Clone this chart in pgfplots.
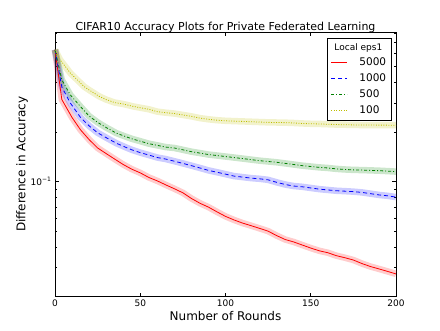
\documentclass[border=0pt]{standalone}
\usepackage{pgfplots}
\usepackage{pgfplotstable}
\usepackage{fontspec}
\setmainfont{DejaVu Sans}
\pgfplotsset{compat=1.18}
\definecolor{mred}{rgb}{1,0,0}
\definecolor{mblue}{rgb}{0,0,1}
\definecolor{mgreen}{rgb}{0,0.5,0}
\definecolor{myellow}{rgb}{0.75,0.75,0}

% eps1 = 5000
\pgfplotstableread{
r v
0 0.632
4 0.315
10 0.245
15 0.206
20 0.180
25 0.160
30 0.148
35 0.137
40 0.127
45 0.119
50 0.113
55 0.106
60 0.101
65 0.0955
70 0.0905
75 0.0855
80 0.0790
85 0.0739
90 0.0700
95 0.0655
100 0.0615
105 0.0585
110 0.0560
115 0.0540
120 0.0520
125 0.0500
130 0.0470
135 0.0445
140 0.0430
145 0.0412
150 0.0395
155 0.0380
160 0.0370
165 0.0355
170 0.0345
175 0.0334
180 0.0318
185 0.0305
190 0.0295
195 0.0285
200 0.0275
}\epsA

% eps1 = 1000
\pgfplotstableread{
r v
0 0.632
4 0.375
9 0.300
15 0.245
20 0.218
25 0.198
30 0.185
36 0.171
40 0.164
45 0.156
50 0.150
55 0.145
60 0.140
65 0.137
70 0.133
75 0.129
80 0.125
85 0.121
90 0.117
95 0.114
100 0.111
105 0.108
110 0.1065
115 0.105
120 0.104
125 0.1025
130 0.099
135 0.096
140 0.094
145 0.093
150 0.0915
155 0.090
160 0.089
165 0.088
170 0.0875
175 0.0869
180 0.086
185 0.0845
190 0.083
195 0.082
200 0.0805
}\epsB

% eps1 = 500
\pgfplotstableread{
r v
0 0.632
4 0.415
9 0.336
15 0.285
20 0.250
25 0.229
30 0.213
36 0.197
40 0.190
45 0.182
50 0.176
55 0.170
60 0.166
65 0.162
70 0.160
75 0.156
80 0.152
85 0.149
90 0.146
95 0.144
100 0.142
105 0.140
110 0.138
115 0.136
120 0.134
125 0.1325
130 0.131
135 0.129
140 0.127
145 0.125
150 0.1235
155 0.122
160 0.121
165 0.1195
170 0.1185
175 0.1178
180 0.1175
185 0.117
190 0.1165
195 0.1158
200 0.115
}\epsC

% eps1 = 100
\pgfplotstableread{
r v
0 0.632
3 0.549
9 0.456
17 0.378
20 0.360
26 0.329
30 0.315
35 0.302
40 0.296
46 0.286
50 0.281
55 0.275
60 0.266
65 0.262
70 0.259
75 0.254
80 0.249
85 0.243
90 0.239
95 0.236
100 0.234
105 0.233
110 0.232
115 0.231
120 0.230
125 0.229
130 0.2285
135 0.228
140 0.227
145 0.2255
150 0.2245
155 0.224
160 0.223
165 0.222
170 0.2215
175 0.221
180 0.2205
185 0.2205
190 0.2203
195 0.2202
200 0.220
}\epsD

\begin{document}
\begin{tikzpicture}
\begin{axis}[
  scale only axis,
  width=341pt, height=264.7pt,
  xmin=0, xmax=200,
  ymode=log, ymin=0.02, ymax=0.81,
  xtick={0,50,100,150,200},
  ytick={0.1},
  yticklabels={10\textsuperscript{−1}},
  minor ytick={0.02,0.03,0.04,0.05,0.06,0.07,0.08,0.09,0.2,0.3,0.4,0.5,0.6,0.7,0.8},
  tick align=inside,
  major tick length=4pt,
  minor tick length=2pt,
  tick style={black, line width=0.6pt},
  axis line style={black, line width=0.8pt},
  /pgf/number format/assume math mode=true,
  ticklabel style={font=\fontsize{9}{10}\selectfont},
  title={CIFAR10 Accuracy Plots for Private Federated Learning},
  title style={font=\fontsize{11}{13}\selectfont, yshift=-10pt},
  xlabel={Number of Rounds},
  ylabel={Difference in Accuracy},
  label style={font=\fontsize{12}{14}\selectfont},
  xlabel style={yshift=3pt},
  ylabel style={yshift=-4pt},
  clip=false,
  legend cell align=left,
  legend style={at={(rel axis cs:0.987,0.978)}, anchor=north east,
    draw=black, line width=0.8pt, font=\fontsize{10.5}{12}\selectfont,
    row sep=2.6pt, inner xsep=3pt, inner ysep=3pt},
  legend image code/.code={\draw[#1] (0pt,0pt) -- (16pt,0pt);},
]
\addlegendimage{empty legend}
\addlegendentry{\hspace{-15pt}\fontsize{9}{10}\selectfont Local eps1}

\addplot[mred, line width=6.5pt, opacity=0.2, forget plot] table[x=r, y=v] {\epsA};
\addplot[mblue, line width=6.5pt, opacity=0.2, forget plot] table[x=r, y=v] {\epsB};
\addplot[mgreen, line width=6.5pt, opacity=0.2, forget plot] table[x=r, y=v] {\epsC};
\addplot[myellow, line width=6.5pt, opacity=0.2, forget plot] table[x=r, y=v] {\epsD};

\addplot[mred, line width=0.8pt] table[x=r, y=v] {\epsA};
\addlegendentry{\hspace{10pt}5000}
\addplot[mblue, line width=0.8pt, dash pattern=on 4pt off 3pt] table[x=r, y=v] {\epsB};
\addlegendentry{\hspace{10pt}1000}
\addplot[mgreen, line width=0.8pt, dash pattern=on 3pt off 2pt on 1pt off 2pt] table[x=r, y=v] {\epsC};
\addlegendentry{\hspace{10pt}500}
\addplot[myellow, line width=0.8pt, dash pattern=on 1pt off 1.5pt] table[x=r, y=v] {\epsD};
\addlegendentry{\hspace{10pt}100}

\path (rel axis cs:-0.1613,-0.1258) rectangle (rel axis cs:1.129,1.1209);
\end{axis}
\end{tikzpicture}
\end{document}
